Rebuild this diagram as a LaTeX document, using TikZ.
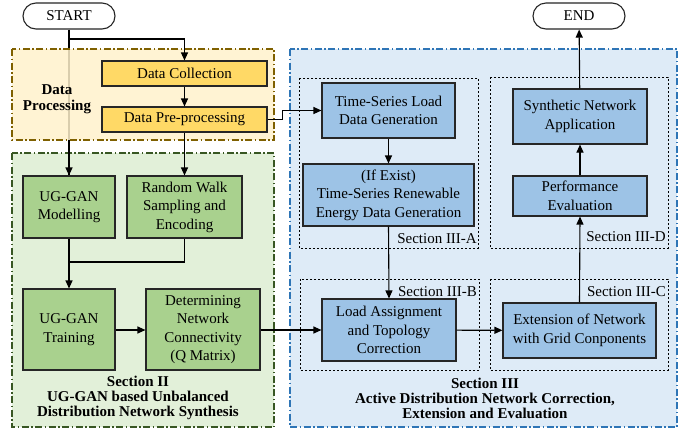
\documentclass[tikz,border=0pt]{standalone}
\usepackage{fontspec}
\setmainfont{Liberation Serif}
\newfontfamily\diagfont{Liberation Serif}
\usetikzlibrary{arrows.meta}

\definecolor{goldbox}{HTML}{FFD966}
\definecolor{greenbox}{HTML}{A9D18E}
\definecolor{bluebox}{HTML}{9DC3E6}
\definecolor{yelpanel}{HTML}{FFF2CC}
\definecolor{yelborder}{HTML}{7F6000}
\definecolor{grnpanel}{HTML}{E2F0D9}
\definecolor{grnborder}{HTML}{385723}
\definecolor{blupanel}{HTML}{DEEBF7}
\definecolor{bluborder}{HTML}{2E75B6}
\definecolor{edge}{HTML}{262626}

\tikzset{
  every node/.style={font=\diagfont\fontsize{15}{18.5}\selectfont, align=center, inner sep=0pt},
  procbox/.style={draw=edge, line width=1.1pt, minimum width=#1},
  gold/.style={procbox=165pt, fill=goldbox},
  terminal/.style={draw=edge, line width=1.1pt, rounded corners=13pt, fill=white,
                   minimum width=92pt, minimum height=26pt},
  panel/.style={line width=1.1pt, dash pattern=on 7pt off 2.5pt on 1.5pt off 2.5pt},
  subpanel/.style={draw=black, line width=1pt, dash pattern=on 2pt off 2pt},
  flow/.style={draw=black, line width=1.1pt, -{Triangle[length=8pt,width=7pt]}},
  link/.style={draw=black, line width=1.1pt},
  seclabel/.style={font=\diagfont\fontsize{15}{15}\selectfont\bfseries},
  sublabel/.style={font=\diagfont\fontsize{15}{18}\selectfont, anchor=east},
}

\begin{document}
\begin{tikzpicture}[x=1pt, y=-1pt]
\useasboundingbox (0,0) rectangle (695,432);
\fill[white] (0,0) rectangle (695,432);

% section panels
\fill[grnpanel] (12,153) rectangle (274,427);
\draw[panel, draw=grnborder] (12,153) rectangle (274,427);
\fill[blupanel] (290,49) rectangle (677,427);
\draw[panel, draw=bluborder] (290,49) rectangle (677,427);

% terminals
\node[terminal] (start) at (69,16) {START};
\node[terminal] (end) at (579,16) {END};

% trunk from START, partly seen through the data panel
\coordinate (split) at (69,39);
\draw[link] (start.south) -- (69,176);

% data processing panel (translucent)
\fill[yelpanel, fill opacity=0.85] (12,49) rectangle (274,140);
\draw[panel, draw=yelborder] (12,49) rectangle (274,140);
\node[seclabel, font=\diagfont\fontsize{15}{16}\selectfont\bfseries] (dplabel) at (57,99) {Data\\Processing};

% sub-section boxes
\draw[subpanel] (299,78) rectangle (478,248);
\draw[subpanel] (490,77) rectangle (668,248);
\draw[subpanel] (300,279) rectangle (479,370);
\draw[subpanel] (490,279) rectangle (668,370);
\node[sublabel] (lA) at (477,239) {Section III-A};
\node[sublabel] (lD) at (666,237) {Section III-D};
\node[sublabel] (lB) at (477,292) {Section III-B};
\node[sublabel] (lC) at (666,292) {Section III-C};

% process boxes
\node[gold, minimum height=25pt] (dc) at (184.5,73.5) {Data Collection};
\node[gold, minimum height=25pt] (dp) at (184.5,119.5) {Data Pre-processing};

\node[procbox=92pt, fill=greenbox, minimum height=62pt] (mod) at (69,207) {UG-GAN\\Modelling};
\node[procbox=115pt, fill=greenbox, minimum height=62pt] (rw) at (184.5,207) {Random Walk\\Sampling and\\Encoding};
\node[procbox=92pt, fill=greenbox, minimum height=81pt] (tr) at (69,329.5) {UG-GAN\\Training};
\node[procbox=114pt, fill=greenbox, minimum height=81pt] (det) at (203,329.5) {Determining\\Network\\Connectivity\\(Q Matrix)};

\node[procbox=133pt, fill=bluebox, minimum height=55pt] (tsl) at (388.5,110.5) {Time-Series Load\\Data Generation};
\node[procbox=171pt, fill=bluebox, minimum height=62pt] (ren) at (388.5,195) {(If Exist)\\Time-Series Renewable\\Energy Data Generation};
\node[procbox=134pt, fill=bluebox, minimum height=62pt] (la) at (389,330) {Load Assignment\\and Topology\\Correction};
\node[procbox=153pt, fill=bluebox, minimum height=55pt] (ext) at (579.5,330.5) {Extension of Network\\with Grid Conponents};
\node[procbox=134pt, fill=bluebox, minimum height=40pt] (perf) at (580,196) {Performance\\Evaluation};
\node[procbox=134pt, fill=bluebox, minimum height=55pt] (syn) at (580,116.5) {Synthetic Network\\Application};

% section captions
\node[seclabel] (s2) at (138,398) {Section II\\UG-GAN based Unbalanced\\Distribution Network Synthesis};
\node[seclabel] (s3) at (485,398) {Section III\\Active Distribution Network Correction,\\Extension and Evaluation};

% connectors
\draw[flow] (split) -| (dc.north);
\draw[flow] (69,150) -- (mod.north);
\draw[flow] (dc) -- (dp);
\draw[flow] (dp.south) -- (rw.north);
\coordinate (merge) at (69,262);
\draw[link] (mod.south) -- (merge);
\draw[link] (rw.south) |- (merge);
\draw[flow] (merge) -- (tr.north);
\draw[flow] (tr.east |- 0,330) -- (det.west |- 0,330);
\draw[flow] (det.east |- 0,330) -- (la.west);
\draw[flow] (dp.east) -- ++(15,0) |- (tsl.west);
\draw[flow] (tsl) -- (ren);
\draw[flow] (ren.south) -- (la.north);
\draw[flow] (la) -- (ext);
\draw[flow] (ext.north) -- (perf.south);
\draw[flow] (perf) -- (syn);
\draw[flow] (syn) -- (end);
\end{tikzpicture}
\end{document}
